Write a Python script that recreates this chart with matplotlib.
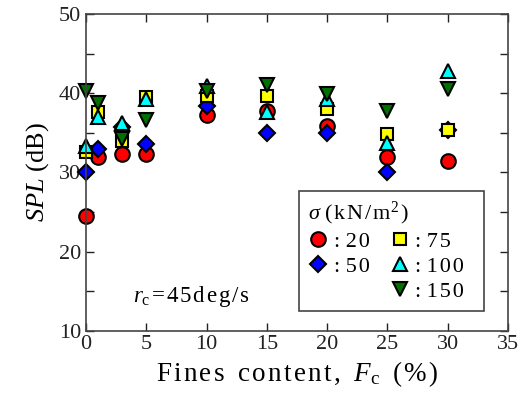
import matplotlib
matplotlib.use("Agg")
import matplotlib.pyplot as plt
from matplotlib.lines import Line2D

plt.rcParams['font.family'] = ['Liberation Serif', 'DejaVu Serif']
plt.rcParams['mathtext.fontset'] = 'custom'
plt.rcParams['mathtext.rm'] = 'Liberation Serif'
plt.rcParams['mathtext.it'] = 'Liberation Serif:italic'

# Fines content (%) and SPL (dB) for each confining stress
fines = [0, 1, 3, 5, 10, 15, 20, 25, 30]
spl_20 = [24.5, 31.9, 32.3, 32.3, 37.2, 37.7, 35.9, 32.0, 31.5]
spl_50 = [30.0, 33.0, 35.7, 33.6, 38.4, 35.0, 35.0, 30.0, 35.4]
spl_75 = [32.6, 37.6, 34.0, 39.5, 39.6, 39.6, 38.0, 34.8, 35.4]
spl_100 = [33.4, 37.0, 36.3, 39.3, 40.9, 37.6, 39.3, 33.7, 42.8]
spl_150 = [40.3, 38.8, 34.2, 36.6, 40.3, 41.1, 39.9, 37.8, 40.5]

stress_labels = ['20', '50', '75', '100', '150']

HAIR = '\u200a'


def spaced(s):
    """Open up the letter spacing of plain text a little."""
    return HAIR.join(s)


fig = plt.figure(figsize=(5.2, 3.94), dpi=100)
ax = fig.add_axes([0.1654, 0.1599, 0.8115, 0.8046])

styles = [
    (spl_20, 'o', '#ff0000', 10.5),
    (spl_50, 'D', '#0000ff', 8.5),
    (spl_75, 's', '#ffff00', 9),
    (spl_100, '^', '#00ffff', 10.5),
    (spl_150, 'v', '#007000', 10.5),
]
handles = []
for (vals, mk, col, ms), lab in zip(styles, stress_labels):
    h, = ax.plot(fines, vals, linestyle='none', marker=mk, markersize=ms,
                 markerfacecolor=col, markeredgecolor='black',
                 markeredgewidth=1.5, label=': ' + lab, clip_on=False)
    handles.append(h)

ax.set_xlim(0, 35)
ax.set_ylim(10, 50)
ax.set_xticks(range(0, 36, 5))
ax.set_yticks(range(10, 51, 5))
ax.set_yticklabels(['10', '', '20', '', '30', '', '40', '', '50'])
ax.tick_params(direction='in', length=6, width=1, top=True, right=True,
               labelsize=16, colors='#222222')
ax.tick_params(axis='x', pad=3)
for s in ax.spines.values():
    s.set_color('#444444')
    s.set_linewidth(1.2)

xlab = spaced('Fines') + '  ' + spaced('content,') + '  ' + r'$F_{\rm c}$' \
    + '  ' + spaced('(%)')
ax.set_xlabel(xlab, fontsize=19.5, labelpad=4)
ax.set_ylabel(r'$SPL$ (dB)', fontsize=19, labelpad=6)

ax.text(0.112, 0.11, r'$r_{\rm c}$' + HAIR + spaced('=45deg/s'),
        transform=ax.transAxes, fontsize=16.5, ha='left', va='center')

blank = Line2D([], [], linestyle='none', marker='none')
leg_handles = [handles[0], handles[1], blank, handles[2], handles[3], handles[4]]
pad_end = '\u2002'
leg_labels = [': ' + spaced('20'), ': ' + spaced('50'), '',
              ': ' + spaced('75') + pad_end, ': ' + spaced('100') + pad_end,
              ': ' + spaced('150') + pad_end]
leg = ax.legend(leg_handles, leg_labels, ncol=2, loc='upper left',
                bbox_to_anchor=(0.5055, 0.4426), borderaxespad=0,
                title=r'$\sigma$ ' + spaced('(kN/m') + r'$^2$' + HAIR + ')',
                title_fontsize=16, fontsize=16,
                alignment='left', fancybox=False, framealpha=1,
                edgecolor='#444444', handlelength=0.9, handletextpad=0.25,
                columnspacing=0.9, labelspacing=0.2, borderpad=0.4,
                markerscale=1.0)
leg.get_frame().set_linewidth(1.2)

fig.savefig('out.png', dpi=100)
